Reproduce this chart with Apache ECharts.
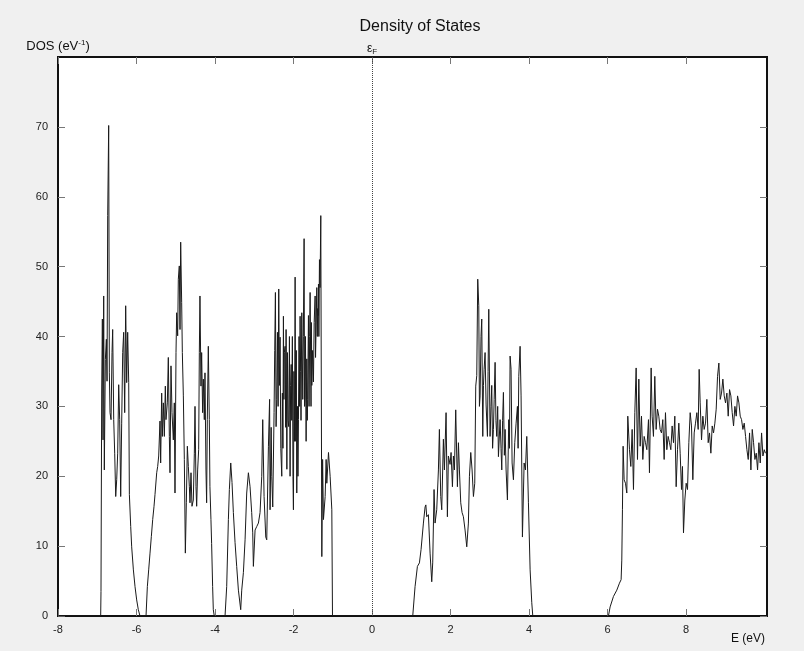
<!DOCTYPE html>
<html>
<head>
<meta charset="utf-8">
<script src="https://cdn.jsdelivr.net/npm/echarts@6/dist/echarts.min.js"></script>
<style>
html,body{margin:0;padding:0;background:#f0f0f0;}
#chart{width:804px;height:651px;}
</style>
</head>
<body>
<div id="chart"></div>
<script>
// Energy axis ticks (eV) and DOS ticks (eV^-1)
const xTicks = [-8, -6, -4, -2, 0, 2, 4, 6, 8];
const yTicks = [0, 10, 20, 30, 40, 50, 60, 70];
const fermiLevel = 0;

// DOS bands: [energy (eV), DOS (eV^-1)]
const band1 = [[-6.913,0],[-6.905,3.5],[-6.887,32.2],[-6.87,42.5],[-6.853,25.2],[-6.836,45.8],[-6.82,20.9],[-6.794,36.7],[-6.768,39.6],[-6.751,33.6],[-6.734,57.3],[-6.709,70.2],[-6.692,34.8],[-6.675,29.1],[-6.649,28.1],[-6.624,37.7],[-6.607,41.0],[-6.581,28.1],[-6.556,23.3],[-6.53,17.1],[-6.505,19.5],[-6.48,23.3],[-6.454,33.1],[-6.429,28.1],[-6.403,17.1],[-6.378,27.6],[-6.352,37.7],[-6.327,40.6],[-6.301,29.1],[-6.276,44.4],[-6.25,33.4],[-6.225,40.6],[-6.199,33.4],[-6.182,17.4],[-6.148,12.8],[-6.123,9.9],[-6.08,6.6],[-6.038,4.2],[-5.996,2.3],[-5.954,0.9],[-5.911,0]];

const band2 = [[-5.758,0],[-5.724,4.2],[-5.69,6.6],[-5.656,9.0],[-5.622,11.4],[-5.588,13.8],[-5.554,15.7],[-5.529,17.4],[-5.486,20.5],[-5.461,21.4],[-5.435,22.9],[-5.402,27.9],[-5.385,21.9],[-5.359,31.9],[-5.342,25.7],[-5.317,30.5],[-5.291,25.7],[-5.266,32.9],[-5.249,28.1],[-5.215,30.5],[-5.19,37.0],[-5.164,25.7],[-5.147,20.5],[-5.122,35.8],[-5.096,29.1],[-5.062,25.2],[-5.037,30.5],[-5.02,17.6],[-4.994,37.7],[-4.977,43.4],[-4.952,40.1],[-4.935,48.2],[-4.91,50.1],[-4.892,41.0],[-4.875,53.5],[-4.85,44.9],[-4.833,37.7],[-4.807,31.5],[-4.782,22.4],[-4.756,9.0],[-4.731,16.2],[-4.705,24.3],[-4.68,21.4],[-4.654,18.5],[-4.638,16.2],[-4.612,20.5],[-4.587,15.7],[-4.553,16.6],[-4.527,23.3],[-4.51,30.0],[-4.485,18.5],[-4.468,15.7],[-4.443,20.9],[-4.417,23.8],[-4.4,37.7],[-4.384,45.8],[-4.358,32.9],[-4.341,37.7],[-4.316,29.1],[-4.298,33.9],[-4.273,28.1],[-4.256,34.8],[-4.231,20.9],[-4.214,16.2],[-4.197,28.1],[-4.171,38.6],[-4.146,28.1],[-4.13,18.5],[-4.104,13.8],[-4.087,10.4],[-4.061,4.2],[-4.044,0.9],[-4.019,0]];

const band3 = [[-3.745,0],[-3.703,4.2],[-3.66,13.8],[-3.635,18.1],[-3.6,21.9],[-3.567,19.1],[-3.533,14.8],[-3.49,10.5],[-3.448,7.1],[-3.405,3.7],[-3.346,0.9],[-3.32,3.7],[-3.278,6.2],[-3.235,10.9],[-3.193,17.6],[-3.15,20.5],[-3.108,18.5],[-3.066,14.8],[-3.04,11.9],[-3.023,7.1],[-2.98,12.3],[-2.938,12.8],[-2.895,13.3],[-2.853,14.8],[-2.81,20],[-2.785,28.1],[-2.751,17.1],[-2.708,11.3],[-2.683,10.9],[-2.64,24.3],[-2.61,31],[-2.598,15.2],[-2.57,27],[-2.555,20],[-2.53,15.6],[-2.496,29.1],[-2.48,38],[-2.462,46.3],[-2.445,27.1],[-2.428,31],[-2.41,40.6],[-2.393,30],[-2.377,46.8],[-2.36,33],[-2.343,39.9],[-2.325,24],[-2.3,20],[-2.285,31.9],[-2.27,24],[-2.258,42.9],[-2.245,31],[-2.235,37.7],[-2.215,38.6],[-2.2,27],[-2.19,41],[-2.17,21],[-2.156,37.7],[-2.14,28],[-2.122,27.1],[-2.105,40],[-2.088,20],[-2.075,33],[-2.06,36],[-2.046,28],[-2.03,40],[-2.015,20],[-2.003,15.2],[-1.99,35],[-1.975,25],[-1.96,48.5],[-1.945,25],[-1.93,38],[-1.918,17.6],[-1.9,30],[-1.888,20],[-1.875,28.1],[-1.86,40],[-1.845,30],[-1.833,42.9],[-1.82,35],[-1.81,28],[-1.79,43.4],[-1.765,31],[-1.75,40],[-1.731,54],[-1.72,30],[-1.71,31],[-1.697,40],[-1.68,25],[-1.663,36.8],[-1.65,28],[-1.64,31],[-1.62,43],[-1.605,30],[-1.59,40],[-1.578,46.3],[-1.555,30],[-1.545,42],[-1.535,33],[-1.515,38],[-1.493,33.5],[-1.475,42],[-1.45,45.8],[-1.44,37],[-1.43,40],[-1.408,47],[-1.395,40],[-1.385,44],[-1.375,43],[-1.365,47.5],[-1.355,40],[-1.34,51],[-1.325,47],[-1.306,57.3],[-1.28,8.5],[-1.26,22.4],[-1.238,13.8],[-1.195,17.1],[-1.17,22.4],[-1.153,19],[-1.11,23.4],[-1.068,20],[-1.025,15.2],[-1.008,0]];

const band4 = [[1.036,0],[1.095,4.2],[1.155,7.1],[1.206,7.6],[1.248,9.5],[1.308,13.3],[1.35,15.6],[1.37,15.9],[1.393,14.2],[1.435,14.5],[1.478,9],[1.52,4.9],[1.545,7.6],[1.579,18.1],[1.605,13.3],[1.647,15.2],[1.69,20.9],[1.715,26.7],[1.749,17.1],[1.775,15.2],[1.817,25.3],[1.843,20.9],[1.885,29.1],[1.919,14.2],[1.944,22.9],[1.987,21.7],[2.013,23.4],[2.047,18.5],[2.072,22.9],[2.098,20.9],[2.131,29.5],[2.174,18.5],[2.2,24.8],[2.225,20.9],[2.259,16.2],[2.293,14.8],[2.327,14.2],[2.369,12.3],[2.412,9.9],[2.454,13.3],[2.48,20],[2.514,23.4],[2.548,20.9],[2.582,17.1],[2.616,19],[2.641,32.9],[2.667,34.4],[2.692,48.2],[2.718,44.4],[2.735,30],[2.752,31.5],[2.775,40],[2.794,42.5],[2.82,25.7],[2.837,33],[2.854,35.3],[2.879,37.7],[2.905,30.2],[2.939,25.7],[2.955,35],[2.973,43.9],[3.006,25.7],[3.03,30],[3.049,33],[3.07,24],[3.091,26.7],[3.11,31],[3.134,36.3],[3.155,28],[3.176,25.7],[3.2,30],[3.219,22.8],[3.261,28.1],[3.285,24],[3.304,20.9],[3.325,28],[3.346,32],[3.37,23],[3.389,26.7],[3.414,20.9],[3.448,16.6],[3.482,28.1],[3.5,24],[3.516,37.2],[3.541,35.3],[3.567,21.9],[3.601,19.5],[3.635,24.8],[3.669,27.6],[3.703,30],[3.72,24],[3.737,34.3],[3.771,38.6],[3.796,31.5],[3.83,11.3],[3.873,21.9],[3.907,20.9],[3.941,25.7],[3.983,16.2],[4.026,6.6],[4.068,1.9],[4.094,0]];

const band5 = [[6.021,0],[6.064,1.3],[6.149,2.8],[6.234,3.7],[6.302,4.7],[6.344,5.2],[6.361,8.0],[6.378,15.2],[6.395,24.3],[6.421,19.5],[6.455,19.0],[6.489,17.6],[6.514,28.6],[6.557,23.8],[6.591,21.4],[6.625,26.7],[6.659,18.1],[6.693,29.1],[6.727,35.5],[6.761,22.4],[6.795,33.9],[6.829,24.3],[6.863,28.6],[6.897,22.4],[6.931,25.7],[6.965,24.8],[6.999,23.8],[7.041,28.1],[7.066,20.5],[7.109,35.5],[7.134,28.6],[7.168,25.7],[7.202,34.3],[7.236,26.7],[7.27,29.6],[7.304,28.6],[7.338,26.7],[7.372,26.2],[7.406,28.1],[7.44,22.4],[7.474,29.1],[7.508,23.8],[7.542,25.7],[7.576,24.8],[7.61,23.8],[7.644,27.2],[7.678,24.8],[7.712,28.6],[7.746,18.5],[7.78,23.8],[7.814,27.6],[7.848,23.3],[7.882,18.1],[7.907,21.4],[7.933,11.9],[7.967,16.6],[8.001,19.0],[8.035,18.1],[8.069,24.8],[8.103,29.1],[8.137,27.2],[8.171,19.5],[8.205,26.2],[8.239,27.6],[8.273,29.1],[8.307,26.7],[8.332,35.3],[8.358,30.5],[8.392,25.2],[8.426,28.6],[8.46,26.7],[8.494,27.6],[8.528,31.0],[8.562,24.8],[8.596,26.2],[8.63,23.3],[8.664,27.2],[8.698,26.2],[8.732,27.6],[8.766,29.6],[8.8,34.3],[8.834,36.2],[8.868,31.0],[8.902,31.9],[8.936,33.9],[8.97,31.5],[9.004,30.5],[9.038,31.9],[9.072,28.6],[9.106,32.4],[9.14,31.5],[9.174,29.1],[9.208,27.2],[9.242,30.0],[9.276,28.6],[9.31,31.5],[9.344,30.5],[9.378,28.6],[9.412,28.1],[9.446,26.7],[9.48,27.6],[9.514,25.7],[9.548,23.8],[9.582,22.4],[9.616,26.2],[9.65,20.9],[9.684,26.7],[9.718,24.8],[9.752,22.4],[9.786,23.3],[9.82,20.9],[9.854,24.8],[9.888,21.9],[9.922,26.2],[9.956,22.9],[9.99,23.8],[10.02,23.3]];

const xMin = -8, xMax = 10.06, yMin = 0, yMax = 80;
const dosData = [[xMin, 0]].concat(band1, band2, band3, band4, band5);

const FONT = "'Liberation Sans','DejaVu Sans',sans-serif";
const chart = echarts.init(document.getElementById('chart'));

const tickStyle = { show: true, inside: true, length: 7, lineStyle: { color: '#777' } };

chart.setOption({
  backgroundColor: '#f0f0f0',
  animation: false,
  title: {
    text: 'Density of States',
    left: 415, top: 14, textAlign: 'center',
    textStyle: { fontFamily: FONT, fontSize: 16, fontWeight: 'normal', color: '#111' }
  },
  grid: {
    left: 58, right: 37, top: 57, bottom: 35,
    show: true, backgroundColor: '#ffffff', borderColor: '#111', borderWidth: 2
  },
  xAxis: [{
    type: 'value', min: xMin, max: xMax,
    axisLine: { show: false, onZero: false },
    axisTick: Object.assign({ customValues: xTicks }, tickStyle),
    splitLine: { show: false },
    axisLabel: { customValues: xTicks, margin: 8, fontFamily: FONT, fontSize: 11, color: '#222' },
    name: 'E (eV)', nameLocation: 'end', nameGap: -2,
    nameTextStyle: { fontFamily: FONT, fontSize: 12, color: '#111', align: 'right', verticalAlign: 'top', padding: [17, 0, 0, 0] }
  }, {
    type: 'value', min: xMin, max: xMax, position: 'top',
    axisLine: { show: false, onZero: false },
    axisTick: Object.assign({ customValues: xTicks }, tickStyle),
    splitLine: { show: false }, axisLabel: { show: false }
  }],
  yAxis: [{
    type: 'value', min: yMin, max: yMax, interval: 10,
    axisLine: { show: false, onZero: false },
    axisTick: Object.assign({ customValues: yTicks }, tickStyle),
    splitLine: { show: false },
    axisLabel: { customValues: yTicks, margin: 10, fontFamily: FONT, fontSize: 11, color: '#222' },
    name: 'DOS (eV{sup|-1})', nameLocation: 'end', nameGap: 4,
    nameTextStyle: { fontFamily: FONT, fontSize: 13, color: '#111', align: 'center',
      rich: { sup: { fontFamily: FONT, fontSize: 8, verticalAlign: 'top', padding: [0, 0, 6, 0], color: '#111' } } }
  }, {
    type: 'value', min: yMin, max: yMax, interval: 10, position: 'right',
    axisLine: { show: false, onZero: false },
    axisTick: Object.assign({ customValues: yTicks }, tickStyle),
    splitLine: { show: false }, axisLabel: { show: false }
  }],
  series: [{
    type: 'line', xAxisIndex: 0, yAxisIndex: 0,
    data: dosData, showSymbol: false, symbol: 'none',
    lineStyle: { color: '#1a1a1a', width: 1 },
    clip: true,
    markLine: {
      silent: true, symbol: 'none',
      lineStyle: { type: 'dotted', color: '#444', width: 1 },
      label: { show: true, position: 'end', distance: 1, formatter: '{e|ε}{f|F}',
        rich: { e: { fontFamily: FONT, fontSize: 12, color: '#111' }, f: { fontFamily: FONT, fontSize: 8, color: '#111', padding: [6, 0, 0, 0] } } },
      data: [{ xAxis: fermiLevel }]
    }
  }]
});
</script>
</body>
</html>
